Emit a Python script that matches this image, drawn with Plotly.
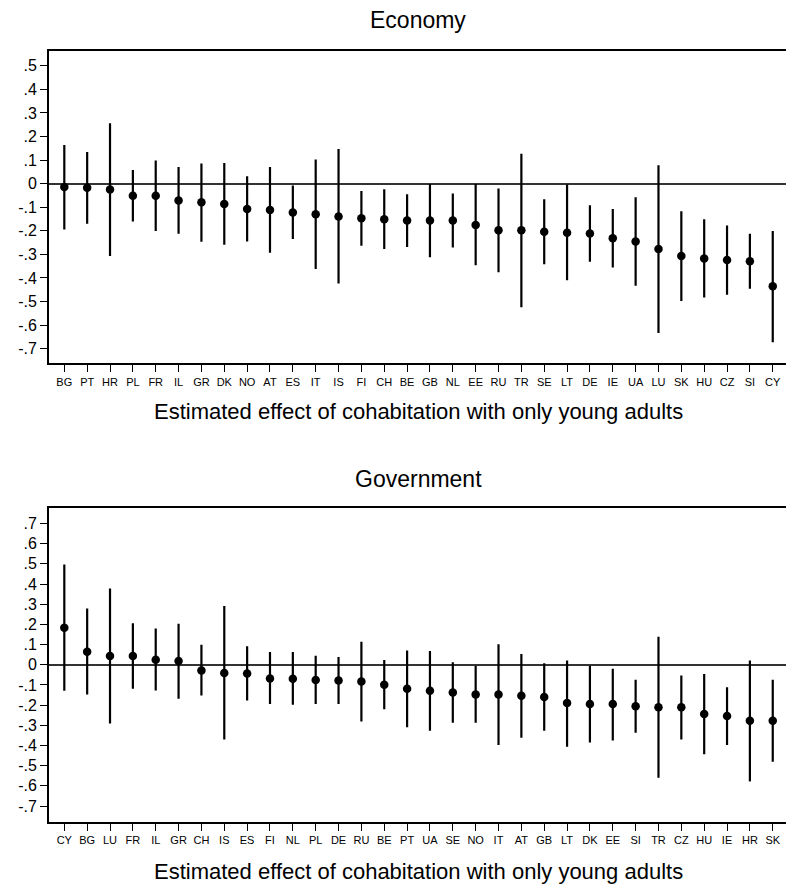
import plotly.graph_objects as go

# ---- Data ----
econ_countries = ["BG","PT","HR","PL","FR","IL","GR","DK","NO","AT","ES","IT","IS","FI","CH","BE",
                  "GB","NL","EE","RU","TR","SE","LT","DE","IE","UA","LU","SK","HU","CZ","SI","CY"]
econ_est = [-0.014,-0.017,-0.025,-0.051,-0.051,-0.071,-0.079,-0.086,-0.107,-0.112,-0.122,-0.130,-0.139,-0.147,-0.151,-0.156,
            -0.156,-0.156,-0.175,-0.198,-0.198,-0.204,-0.208,-0.211,-0.232,-0.245,-0.277,-0.307,-0.317,-0.324,-0.329,-0.435]
econ_hi = [0.164,0.134,0.256,0.058,0.098,0.071,0.085,0.088,0.031,0.071,-0.008,0.103,0.147,-0.031,-0.024,-0.045,
           -0.001,-0.042,-0.001,-0.021,0.127,-0.066,-0.004,-0.092,-0.107,-0.058,0.078,-0.117,-0.151,-0.177,-0.212,-0.201]
econ_lo = [-0.194,-0.170,-0.307,-0.160,-0.201,-0.212,-0.246,-0.259,-0.245,-0.293,-0.235,-0.362,-0.424,-0.263,-0.277,-0.269,
           -0.312,-0.271,-0.346,-0.376,-0.524,-0.342,-0.410,-0.331,-0.356,-0.433,-0.633,-0.498,-0.483,-0.471,-0.446,-0.673]

gov_countries = ["CY","BG","LU","FR","IL","GR","CH","IS","ES","FI","NL","PL","DE","RU","BE","PT",
                 "UA","SE","NO","IT","AT","GB","LT","DK","EE","SI","TR","CZ","HU","IE","HR","SK"]
gov_est = [0.183,0.064,0.043,0.043,0.025,0.018,-0.028,-0.041,-0.043,-0.068,-0.069,-0.076,-0.078,-0.083,-0.099,-0.119,
           -0.129,-0.137,-0.147,-0.147,-0.154,-0.160,-0.190,-0.195,-0.195,-0.206,-0.211,-0.211,-0.244,-0.254,-0.277,-0.277]
gov_hi = [0.497,0.279,0.378,0.206,0.180,0.203,0.099,0.291,0.092,0.063,0.063,0.045,0.038,0.114,0.023,0.071,
          0.068,0.012,-0.005,0.101,0.053,0.007,0.021,-0.005,-0.020,-0.074,0.139,-0.053,-0.046,-0.111,0.021,-0.074]
gov_lo = [-0.129,-0.147,-0.291,-0.119,-0.127,-0.168,-0.152,-0.370,-0.177,-0.195,-0.198,-0.195,-0.195,-0.281,-0.221,-0.310,
          -0.327,-0.287,-0.287,-0.398,-0.362,-0.327,-0.406,-0.385,-0.375,-0.337,-0.560,-0.370,-0.444,-0.398,-0.578,-0.480]

econ_yticks = [0.5,0.4,0.3,0.2,0.1,0,-0.1,-0.2,-0.3,-0.4,-0.5,-0.6,-0.7]
econ_yticktext = [".5",".4",".3",".2",".1","0","-.1","-.2","-.3","-.4","-.5","-.6","-.7"]
gov_yticks = [0.7,0.6,0.5,0.4,0.3,0.2,0.1,0,-0.1,-0.2,-0.3,-0.4,-0.5,-0.6,-0.7]
gov_yticktext = [".7",".6",".5",".4",".3",".2",".1","0","-.1","-.2","-.3","-.4","-.5","-.6","-.7"]

titles = ["Economy", "Government"]
xtitle = "Estimated effect of cohabitation with only young adults"

FONT = "Liberation Sans, Arial, sans-serif"
W, H = 786, 894
L = 49

fig = go.Figure()

def add_panel(idx, countries, est, hi, lo):
    xs = list(range(len(countries)))
    up = [h - e for h, e in zip(hi, est)]
    dn = [e - l for e, l in zip(est, lo)]
    fig.add_trace(go.Scatter(
        x=xs, y=est, mode="markers",
        marker=dict(color="black", size=8.5),
        error_y=dict(type="data", symmetric=False, array=up, arrayminus=dn,
                     width=0, thickness=2.2, color="black"),
        xaxis="x" if idx == 0 else "x2", yaxis="y" if idx == 0 else "y2",
        showlegend=False, hoverinfo="skip"))

add_panel(0, econ_countries, econ_est, econ_hi, econ_lo)
add_panel(1, gov_countries, gov_est, gov_hi, gov_lo)

def px_y(y):
    return 1 - y / H

def px_x(x):
    return (x - L) / (W - L)

top_dom = [px_y(363.3), px_y(50.7)]
bot_dom = [px_y(822), px_y(508.3)]

xcommon = dict(range=[-0.67, 31.58], showgrid=False, zeroline=False, showline=True,
               linecolor="black", linewidth=2, mirror=True, ticks="outside", ticklen=7,
               tickwidth=1, tickcolor="black", tickfont=dict(family=FONT, size=11, color="black"),
               tickmode="array", fixedrange=True)
ycommon = dict(showgrid=False, zeroline=True, zerolinecolor="#333333", zerolinewidth=2,
               showline=True, linecolor="black", linewidth=2, mirror=False, ticks="outside",
               ticklen=7, tickwidth=1, tickcolor="black",
               tickfont=dict(family=FONT, size=16, color="black"), tickmode="array")

fig.update_layout(
    width=W, height=H, margin=dict(l=L, r=0, t=0, b=0),
    paper_bgcolor="white", plot_bgcolor="white",
    xaxis=dict(xcommon, domain=[0, 1], anchor="y",
               tickvals=list(range(len(econ_countries))), ticktext=econ_countries),
    yaxis=dict(ycommon, domain=top_dom, anchor="x", range=[-0.762, 0.564],
               tickvals=econ_yticks, ticktext=econ_yticktext),
    xaxis2=dict(xcommon, domain=[0, 1], anchor="y2",
                tickvals=list(range(len(gov_countries))), ticktext=gov_countries),
    yaxis2=dict(ycommon, domain=bot_dom, anchor="x2", range=[-0.779, 0.775],
                tickvals=gov_yticks, ticktext=gov_yticktext),
)

cx = px_x(418)
ann = []
for t, yc in zip(titles, [20, 479]):
    ann.append(dict(text=t, x=cx, y=px_y(yc), xref="paper", yref="paper",
                    xanchor="center", yanchor="middle", showarrow=False,
                    font=dict(family=FONT, size=23, color="black")))
for yc in [411, 871]:
    ann.append(dict(text=xtitle, x=cx, y=px_y(yc), xref="paper", yref="paper",
                    xanchor="center", yanchor="middle", showarrow=False,
                    font=dict(family=FONT, size=22, color="black")))
fig.update_layout(annotations=ann)

fig.write_html("out.html")
